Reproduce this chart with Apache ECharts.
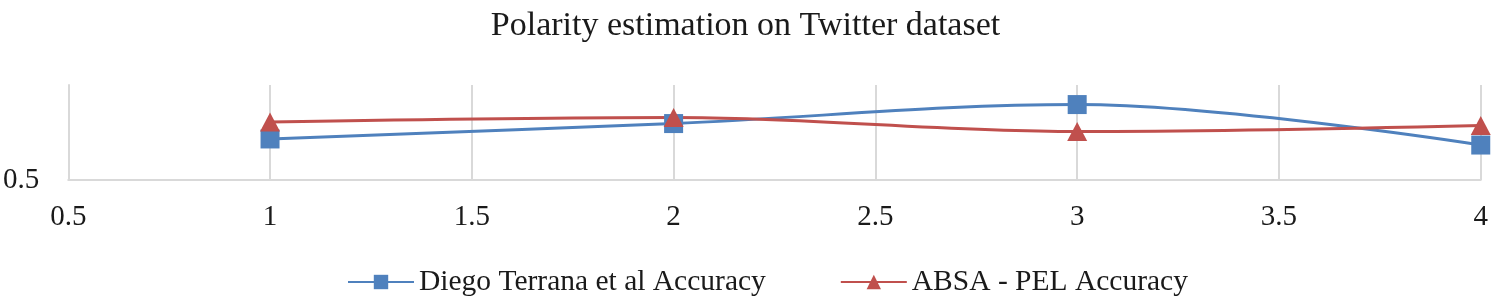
<!DOCTYPE html>
<html>
<head>
<meta charset="utf-8">
<script src="https://cdn.jsdelivr.net/npm/echarts@6/dist/echarts.min.js"></script>
<style>
  html, body { margin: 0; padding: 0; background: #fff; }
  #chart { width: 1491px; height: 298px; }
</style>
</head>
<body>
<div id="chart"></div>
<script>
const xValues = [1, 2, 3, 4];
const diegoAccuracy = [0.716, 0.797, 0.897, 0.684];
const absaAccuracy = [0.805, 0.829, 0.755, 0.787];
const seriesNames = ['Diego Terrana et al Accuracy', 'ABSA - PEL Accuracy'];

const chart = echarts.init(document.getElementById('chart'));
const font = '"Liberation Serif", "Times New Roman", serif';

chart.setOption({
  backgroundColor: '#fff',
  animation: false,
  title: {
    text: 'Polarity estimation on Twitter dataset',
    left: 'center',
    top: 4,
    textStyle: { fontFamily: font, fontSize: 34, fontWeight: 'normal', color: '#1a1a1a' }
  },
  legend: {
    data: seriesNames,
    left: 342,
    top: 262,
    itemWidth: 66,
    itemHeight: 18,
    itemGap: 74,
    textStyle: { fontFamily: font, fontSize: 29.5, color: '#1a1a1a' }
  },
  grid: { left: 65, right: 10, top: 85, bottom: 118, containLabel: false },
  xAxis: {
    type: 'value',
    min: 0.5,
    max: 4,
    interval: 0.5,
    axisLine: { show: true, lineStyle: { color: '#d9d9d9', width: 2 } },
    axisTick: { show: false },
    axisLabel: { fontFamily: font, fontSize: 29, color: '#1a1a1a', margin: 23 },
    splitLine: { show: true, lineStyle: { color: '#d9d9d9', width: 2 } }
  },
  yAxis: {
    type: 'value',
    min: 0.5,
    max: 1,
    interval: 0.5,
    axisLine: { show: true, lineStyle: { color: '#d9d9d9', width: 2 } },
    axisTick: { show: false },
    axisLabel: { fontFamily: font, fontSize: 29, color: '#1a1a1a', margin: 29, showMaxLabel: false },
    splitLine: { show: false }
  },
  series: [
    {
      name: seriesNames[0],
      type: 'line',
      smooth: 0.35,
      symbol: 'rect',
      symbolSize: 19,
      lineStyle: { width: 3, color: '#4f81bd' },
      itemStyle: { color: '#4f81bd' },
      data: xValues.map((x, i) => [x, diegoAccuracy[i]])
    },
    {
      name: seriesNames[1],
      type: 'line',
      smooth: 0.35,
      symbol: 'triangle',
      symbolSize: [20, 19],
      lineStyle: { width: 3, color: '#c0504d' },
      itemStyle: { color: '#c0504d' },
      data: xValues.map((x, i) => [x, absaAccuracy[i]])
    }
  ]
});
</script>
</body>
</html>
